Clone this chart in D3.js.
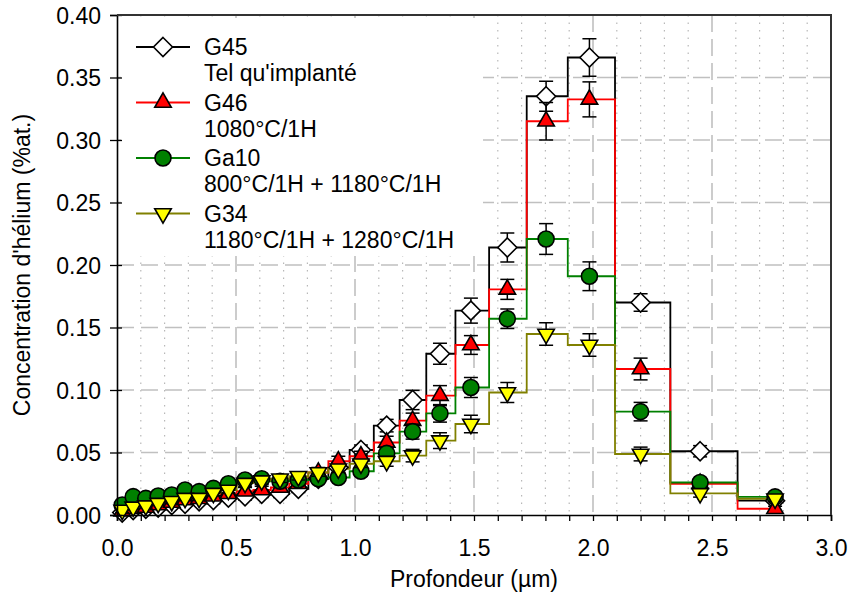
<!DOCTYPE html>
<html><head><meta charset="utf-8">
<script src="https://cdn.jsdelivr.net/npm/d3@7"></script>
<style>body{margin:0;background:#fff} text{font-family:"Liberation Sans",Arial,sans-serif;fill:#000}</style>
</head><body><svg id="c" width="848" height="599"></svg>
<script>
// ---- data ----
const depth = [0.022,0.068,0.121,0.173,0.230,0.286,0.345,0.405,0.468,0.538,0.608,0.685,0.762,0.846,0.930,1.025,1.133,1.242,1.357,1.487,1.640,1.803,1.985,2.200,2.450,2.765];
const g45    = [0.002,0.004,0.005,0.006,0.008,0.009,0.011,0.012,0.014,0.015,0.017,0.017,0.021,0.029,0.038,0.052,0.0715,0.092,0.129,0.1635,0.214,0.335,0.366,0.170,0.051,0.0115];
const g45Err = [0.002,0.002,0.002,0.002,0.002,0.002,0.002,0.003,0.003,0.003,0.003,0.003,0.003,0.003,0.004,0.004,0.005,0.0077,0.0084,0.010,0.0116,0.012,0.015,0.007,0.0045,0.002];
const g46    = [0.003,0.005,0.006,0.008,0.010,0.012,0.013,0.015,0.017,0.019,0.020,0.022,0.025,0.034,0.043,0.047,0.058,0.0755,0.0955,0.136,0.1805,0.315,0.3325,0.1168,0.025,0.005];
const g46Err = [0.002,0.002,0.002,0.002,0.002,0.002,0.002,0.003,0.003,0.003,0.003,0.003,0.003,0.004,0.004,0.004,0.005,0.006,0.008,0.0075,0.008,0.015,0.014,0.0087,0.003,0.002];
const ga10    = [0.008,0.0147,0.0133,0.0152,0.016,0.020,0.0187,0.0213,0.025,0.028,0.029,0.027,0.028,0.029,0.030,0.035,0.0493,0.0667,0.0813,0.102,0.157,0.2208,0.191,0.0827,0.026,0.0145];
const ga10Err = [0.002,0.002,0.002,0.002,0.002,0.002,0.002,0.002,0.003,0.003,0.003,0.003,0.003,0.003,0.003,0.004,0.005,0.006,0.007,0.008,0.0078,0.0123,0.0115,0.0074,0.003,0.002];
const g34    = [0.004,0.0065,0.0075,0.0095,0.011,0.0135,0.0135,0.0175,0.020,0.0255,0.0275,0.029,0.031,0.034,0.037,0.041,0.043,0.0475,0.0595,0.0728,0.098,0.1448,0.136,0.0488,0.0173,0.013];
const g34Err = [0.002,0.002,0.002,0.002,0.002,0.002,0.002,0.002,0.002,0.003,0.003,0.003,0.003,0.003,0.003,0.003,0.004,0.005,0.0063,0.007,0.008,0.009,0.009,0.0055,0.003,0.002];
const seriesNames = ["G45","G46","Ga10","G34"];
const seriesNotes = ["Tel qu'implanté","1080°C/1H","800°C/1H + 1180°C/1H","1180°C/1H + 1280°C/1H"];
const xMajorTicks = [0.0,0.5,1.0,1.5,2.0,2.5,3.0];
const xMinorTicks = d3.range(0,31).map(i=>i/10);
const yTicks = [0.00,0.05,0.10,0.15,0.20,0.25,0.30,0.35,0.40];
const xTitle = "Profondeur (µm)";
const yTitle = "Concentration d'hélium (%at.)";

// ---- styles ----
const FS = 23;
const styles = [
  {line:"#000000", fill:"#ffffff", shape:"diamond"},
  {line:"#ff0000", fill:"#ff0000", shape:"triUp"},
  {line:"#008000", fill:"#008000", shape:"circle"},
  {line:"#808000", fill:"#ffff00", shape:"triDown"}
];
const series = [
  {v:g45,e:g45Err},{v:g46,e:g46Err},{v:ga10,e:ga10Err},{v:g34,e:g34Err}
];

const svg = d3.select("#c");
const L=117,R=831,T=15,B=515;
const x = d3.scaleLinear().domain([0,3]).range([L,R]);
const y = d3.scaleLinear().domain([0,0.4]).range([B,T]);

function markerPath(shape){
  if(shape==="circle") return d3.symbol(d3.symbolCircle, Math.PI*8*8)();
  if(shape==="diamond") return "M0,-9.5L9.5,0L0,9.5L-9.5,0Z";
  const s=16.5, h=s*Math.sqrt(3)/2;
  if(shape==="triUp") return `M0,${-2*h/3}L${s/2},${h/3}L${-s/2},${h/3}Z`;
  return `M0,${2*h/3}L${s/2},${-h/3}L${-s/2},${-h/3}Z`;
}

// grid
const grid = svg.append("g");
xMinorTicks.filter(t=>Math.abs(t*2-Math.round(t*2))>1e-6).forEach(t=>{
  grid.append("line").attr("x1",x(t)).attr("x2",x(t)).attr("y1",T).attr("y2",B)
    .attr("stroke","#b8b8b8").attr("stroke-width",1.2).attr("stroke-dasharray","1.5,6");
});
xMajorTicks.filter(t=>t>0&&t<3).forEach(t=>{
  grid.append("line").attr("x1",x(t)).attr("x2",x(t)).attr("y1",T).attr("y2",B)
    .attr("stroke","#c0c0c0").attr("stroke-width",1.6).attr("stroke-dasharray","17,7");
});
yTicks.filter(t=>t>0&&t<0.4).forEach(t=>{
  grid.append("line").attr("x1",L).attr("x2",R).attr("y1",y(t)).attr("y2",y(t))
    .attr("stroke","#c0c0c0").attr("stroke-width",1.6).attr("stroke-dasharray","17,7");
});

// legend background
svg.append("rect").attr("x",121).attr("y",18).attr("width",362).attr("height",238).attr("fill","#fff");

// lines
const line = d3.line().x((d,i)=>x(depth[i])).y(d=>y(d)).curve(d3.curveStep);
series.forEach((s,k)=>{
  svg.append("path").attr("d",line(s.v)).attr("fill","none")
    .attr("stroke",styles[k].line).attr("stroke-width",1.8);
});
// error bars & markers
series.forEach((s,k)=>{
  const g = svg.append("g");
  s.v.forEach((v,i)=>{
    const cx=x(depth[i]), y1=y(v+s.e[i]), y2=y(v-s.e[i]);
    g.append("line").attr("x1",cx).attr("x2",cx).attr("y1",y1).attr("y2",y2).attr("stroke","#000").attr("stroke-width",1.5);
    [y1,y2].forEach(yy=>g.append("line").attr("x1",cx-7).attr("x2",cx+7).attr("y1",yy).attr("y2",yy).attr("stroke","#000").attr("stroke-width",1.5));
  });
  s.v.forEach((v,i)=>{
    g.append("path").attr("d",markerPath(styles[k].shape))
      .attr("transform",`translate(${x(depth[i])},${y(v)})`)
      .attr("fill",styles[k].fill).attr("stroke","#000").attr("stroke-width",1.6);
  });
});

// legend
seriesNames.forEach((n,k)=>{
  const ly = 47 + k*55.5;
  svg.append("line").attr("x1",136).attr("x2",190).attr("y1",ly).attr("y2",ly)
    .attr("stroke",styles[k].line).attr("stroke-width",1.8);
  svg.append("path").attr("d",markerPath(styles[k].shape)).attr("transform",`translate(163,${ly})`)
    .attr("fill",styles[k].fill).attr("stroke","#000").attr("stroke-width",1.6);
  svg.append("text").attr("x",204).attr("y",ly+8).attr("font-size",FS).text(n);
  svg.append("text").attr("x",204).attr("y",ly+34).attr("font-size",FS).text(seriesNotes[k]);
});

// axes
const xAxis = svg.append("g").attr("transform",`translate(0,${B})`)
  .call(d3.axisBottom(x).tickValues(xMinorTicks).tickSize(6).tickFormat(d=>{
    return xMajorTicks.some(t=>Math.abs(t-d)<1e-6) ? d3.format(".1f")(d) : "";
  }));
xAxis.select(".domain").attr("stroke","#000").attr("stroke-width",1.6);
xAxis.selectAll(".tick line").attr("stroke-width",1.3);
xAxis.selectAll("text").attr("font-size",FS).attr("y",41).attr("dy",0).attr("font-family","Liberation Sans, Arial, sans-serif");

const yAxis = svg.append("g").attr("transform",`translate(${L},0)`)
  .call(d3.axisLeft(y).tickValues(yTicks).tickSize(7).tickFormat(d3.format(".2f")));
yAxis.select(".domain").attr("stroke","#000").attr("stroke-width",1.6);
yAxis.selectAll(".tick line").attr("x1",5).attr("stroke-width",1.3);
yAxis.selectAll("text").attr("font-size",FS).attr("x",-16).attr("dy","0.35em").attr("font-family","Liberation Sans, Arial, sans-serif");

// frame top/right
svg.append("path").attr("d",`M${L},${T}H${R}V${B}`).attr("fill","none").attr("stroke","#333").attr("stroke-width",2);

// titles
svg.append("text").attr("x",(L+R)/2).attr("y",587).attr("text-anchor","middle").attr("font-size",FS).text(xTitle);
svg.append("text").attr("transform",`translate(30,${(T+B)/2}) rotate(-90)`).attr("text-anchor","middle").attr("font-size",FS).text(yTitle);
</script></body></html>
